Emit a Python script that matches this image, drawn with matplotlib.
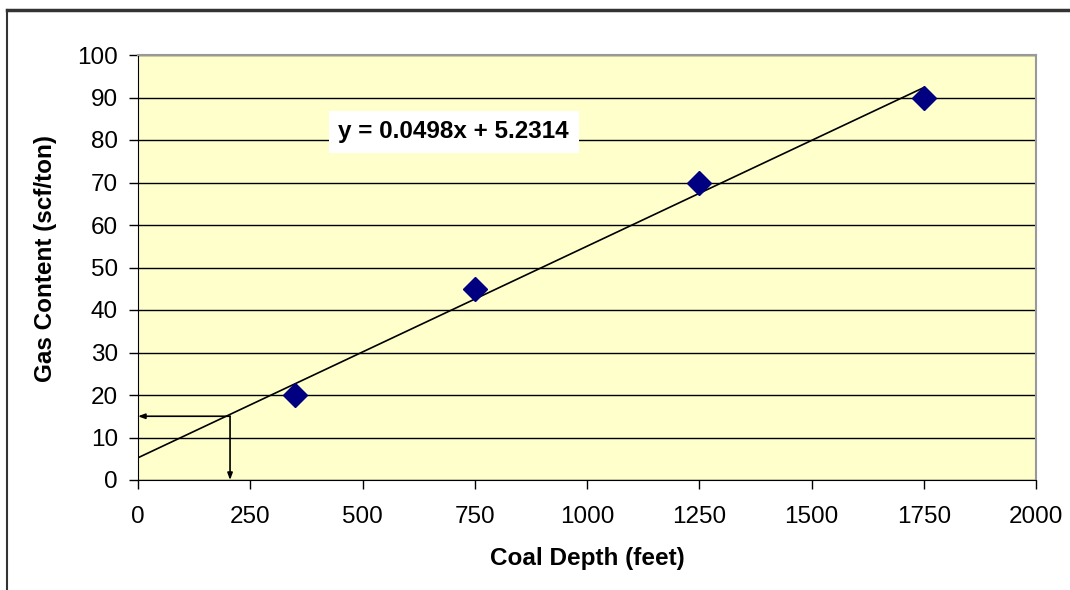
import matplotlib.pyplot as plt
import numpy as np
from matplotlib.lines import Line2D

plt.rcParams["font.family"] = ["Liberation Sans", "DejaVu Sans"]

# coal depth (feet) vs gas content (scf/ton)
depth = np.array([350, 750, 1250, 1750])
gas = np.array([20, 45, 70, 90])

x_ticks = [0, 250, 500, 750, 1000, 1250, 1500, 1750, 2000]
y_ticks = list(range(0, 101, 10))

# read-off example: depth -> gas content
pick_depth = 205
pick_gas = 15

slope, intercept = np.polyfit(depth, gas, 1)

fig = plt.figure(figsize=(10.7, 5.9), dpi=100)
ax = fig.add_axes([138 / 1070, 1 - 480 / 590, 898 / 1070, 425 / 590])
ax.set_facecolor("#FFFFCC")

ax.set_xlim(0, 2000)
ax.set_ylim(0, 100)
ax.set_xticks(x_ticks)
ax.set_yticks(y_ticks)
ax.tick_params(labelsize=17.5, direction="out", length=6.5, width=1, color="black")
ax.tick_params(axis="x", pad=12)
ax.tick_params(axis="y", pad=8)
ax.grid(axis="y", color="black", linewidth=1)
ax.set_axisbelow(True)

for side in ["top", "right"]:
    ax.spines[side].set_color("#999999")
    ax.spines[side].set_linewidth(1.5)
for side in ["left", "bottom"]:
    ax.spines[side].set_color("black")

line_x = np.array([0, depth.max()])
ax.plot(line_x, slope * line_x + intercept, color="black", linewidth=1.2, zorder=3)
ax.plot(depth, gas, linestyle="none", marker="D", markersize=12,
        color="#000080", zorder=4)

arrow_kw = dict(arrowstyle="-|>,head_length=0.4,head_width=0.15", color="black", lw=1.2,
                shrinkA=0, shrinkB=0)
ax.annotate("", xy=(0, pick_gas), xytext=(pick_depth, pick_gas), arrowprops=arrow_kw)
ax.annotate("", xy=(pick_depth, 0), xytext=(pick_depth, pick_gas), arrowprops=arrow_kw)

ax.text(703, 81.9, f"y = {slope:.4f}x + {intercept:.4f}", fontsize=17.5, fontweight="bold",
        ha="center", va="center", zorder=5,
        bbox=dict(facecolor="white", edgecolor="none", pad=7))

ax.set_xlabel("Coal Depth (feet)", fontsize=17.5, fontweight="bold", va="center")
ax.xaxis.set_label_coords(0.5, -(558 - 480) / 425)
ax.set_ylabel("Gas Content (scf/ton)", fontsize=17.5, fontweight="bold", va="center")
ax.yaxis.set_label_coords((46 - 138) / 898, (480 - 258) / 425)

# outer chart frame (only top and left edges visible)
fig.add_artist(Line2D([7 / 1070, 1], [1 - 10 / 590, 1 - 10 / 590], color="#333333",
                      linewidth=2.5, transform=fig.transFigure))
fig.add_artist(Line2D([7 / 1070, 7 / 1070], [0, 1 - 10 / 590], color="#333333",
                      linewidth=1.5, transform=fig.transFigure))

fig.savefig("out.png", dpi=100)
